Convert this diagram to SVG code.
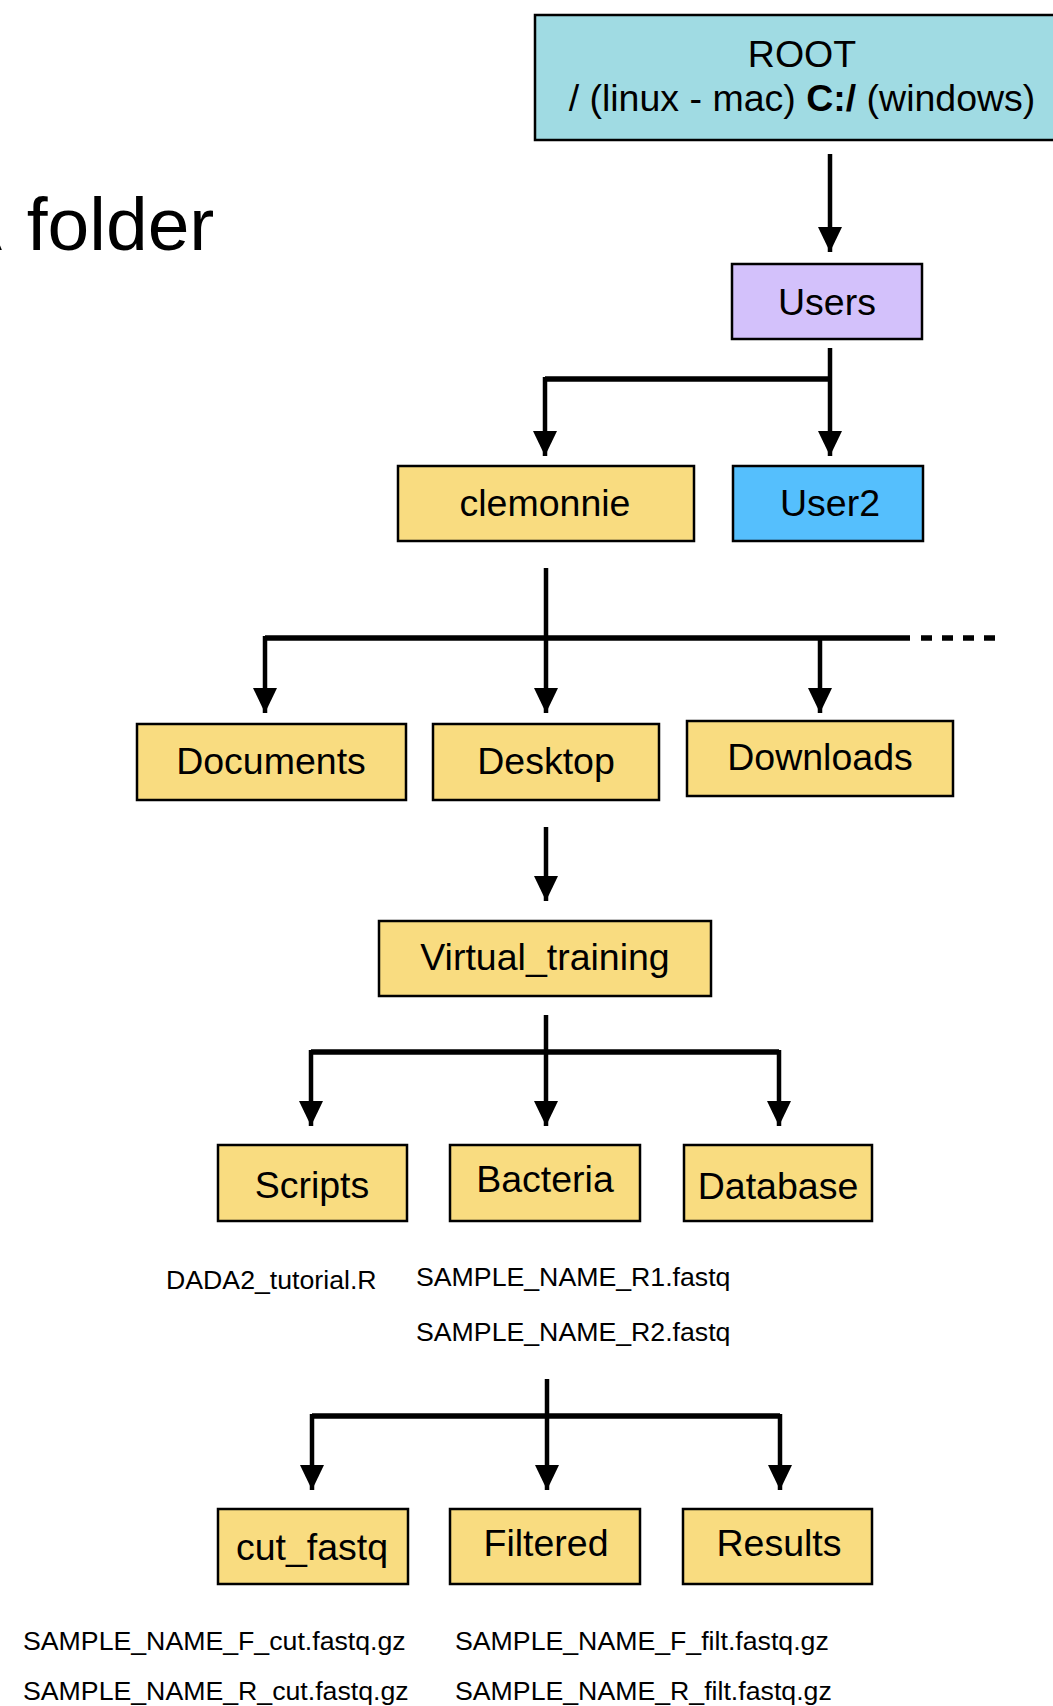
<svg xmlns="http://www.w3.org/2000/svg" width="1053" height="1706" viewBox="0 0 1053 1706">
  <style>
    .box { stroke: #000; stroke-width: 2.5; }
    .root { fill: #a0dbe3; }
    .users { fill: #d3c1fb; }
    .user2 { fill: #55bffd; }
    .dir { fill: #f9dc80; }
    .lbl { font-family: "Liberation Sans", Arial, sans-serif; font-size: 37.5px; fill: #000; text-anchor: middle; }
    .file { font-family: "Liberation Sans", Arial, sans-serif; font-size: 26.7px; fill: #000; }
    .title { font-family: "Liberation Sans", Arial, sans-serif; font-size: 75px; fill: #000; }
    .wire { fill: none; stroke: #000; stroke-width: 4.5; }
    .bus { fill: none; stroke: #000; stroke-width: 5.5; }
  </style>
  <defs>
    <marker id="head" markerUnits="userSpaceOnUse" markerWidth="25" markerHeight="24" refX="25" refY="12" orient="auto">
      <path d="M0,0 L25,12 L0,24 z" fill="#000"/>
    </marker>
  </defs>

  <rect width="1053" height="1706" fill="#fff"/>

  <text class="title" x="-48" y="250">A <tspan dx="8">folder</tspan></text>

  <g id="connectors">
    <!-- ROOT to Users -->
    <line class="wire" x1="830" y1="154" x2="830" y2="252" marker-end="url(#head)"/>
    <!-- Users to its children -->
    <line class="wire" x1="830" y1="348" x2="830" y2="456" marker-end="url(#head)"/>
    <polyline class="bus" points="830,379 545,379"/>
    <line class="wire" x1="545" y1="377" x2="545" y2="456" marker-end="url(#head)"/>
    <!-- clemonnie to its children -->
    <line class="wire" x1="546" y1="568" x2="546" y2="713" marker-end="url(#head)"/>
    <polyline class="bus" points="265,638 910,638"/>
    <line class="bus" x1="921" y1="638" x2="996" y2="638" stroke-dasharray="11 10"/>
    <line class="wire" x1="265" y1="636" x2="265" y2="713" marker-end="url(#head)"/>
    <line class="wire" x1="820" y1="638" x2="820" y2="713" marker-end="url(#head)"/>
    <!-- Desktop to Virtual_training -->
    <line class="wire" x1="546" y1="827" x2="546" y2="901" marker-end="url(#head)"/>
    <!-- Virtual_training to its children -->
    <line class="wire" x1="546" y1="1015" x2="546" y2="1126" marker-end="url(#head)"/>
    <polyline class="bus" points="311,1052 779,1052"/>
    <line class="wire" x1="311" y1="1050" x2="311" y2="1126" marker-end="url(#head)"/>
    <line class="wire" x1="779" y1="1050" x2="779" y2="1126" marker-end="url(#head)"/>
    <!-- Bacteria to its children -->
    <line class="wire" x1="547" y1="1379" x2="547" y2="1490" marker-end="url(#head)"/>
    <polyline class="bus" points="312,1416 780,1416"/>
    <line class="wire" x1="312" y1="1414" x2="312" y2="1490" marker-end="url(#head)"/>
    <line class="wire" x1="780" y1="1414" x2="780" y2="1490" marker-end="url(#head)"/>
  </g>

  <g id="root">
    <rect class="box root" x="535" y="15" width="535" height="125"/>
    <text class="lbl" x="802" y="67">ROOT</text>
    <text class="lbl" x="802" y="111">/ (linux - mac) <tspan font-weight="bold">C:/</tspan> (windows)</text>
  </g>

  <g id="users">
    <rect class="box users" x="732" y="264" width="190" height="75"/>
    <text class="lbl" x="827" y="315">Users</text>
  </g>

  <g id="clemonnie">
    <rect class="box dir" x="398" y="466" width="296" height="75"/>
    <text class="lbl" x="545" y="516">clemonnie</text>
  </g>

  <g id="user2">
    <rect class="box user2" x="733" y="466" width="190" height="75"/>
    <text class="lbl" x="830" y="516">User2</text>
  </g>

  <g id="documents">
    <rect class="box dir" x="137" y="724" width="269" height="76"/>
    <text class="lbl" x="271" y="774">Documents</text>
  </g>

  <g id="desktop">
    <rect class="box dir" x="433" y="724" width="226" height="76"/>
    <text class="lbl" x="546" y="774">Desktop</text>
  </g>

  <g id="downloads">
    <rect class="box dir" x="687" y="721" width="266" height="75"/>
    <text class="lbl" x="820" y="770">Downloads</text>
  </g>

  <g id="virtual_training">
    <rect class="box dir" x="379" y="921" width="332" height="75"/>
    <text class="lbl" x="545" y="970">Virtual_training</text>
  </g>

  <g id="scripts">
    <rect class="box dir" x="218" y="1145" width="189" height="76"/>
    <text class="lbl" x="312" y="1198">Scripts</text>
    <text class="file" x="166" y="1289">DADA2_tutorial.R</text>
  </g>

  <g id="bacteria">
    <rect class="box dir" x="450" y="1145" width="190" height="76"/>
    <text class="lbl" x="545" y="1192">Bacteria</text>
    <text class="file" x="416" y="1286">SAMPLE_NAME_R1.fastq</text>
    <text class="file" x="416" y="1341">SAMPLE_NAME_R2.fastq</text>
  </g>

  <g id="database">
    <rect class="box dir" x="684" y="1145" width="188" height="76"/>
    <text class="lbl" x="778" y="1199">Database</text>
  </g>

  <g id="cut_fastq">
    <rect class="box dir" x="218" y="1509" width="190" height="75"/>
    <text class="lbl" x="312" y="1560">cut_fastq</text>
    <text class="file" x="23" y="1650">SAMPLE_NAME_F_cut.fastq.gz</text>
    <text class="file" x="23" y="1700">SAMPLE_NAME_R_cut.fastq.gz</text>
  </g>

  <g id="filtered">
    <rect class="box dir" x="450" y="1509" width="190" height="75"/>
    <text class="lbl" x="546" y="1556">Filtered</text>
    <text class="file" x="455" y="1650">SAMPLE_NAME_F_filt.fastq.gz</text>
    <text class="file" x="455" y="1700">SAMPLE_NAME_R_filt.fastq.gz</text>
  </g>

  <g id="results">
    <rect class="box dir" x="683" y="1509" width="189" height="75"/>
    <text class="lbl" x="779" y="1556">Results</text>
  </g>
</svg>
